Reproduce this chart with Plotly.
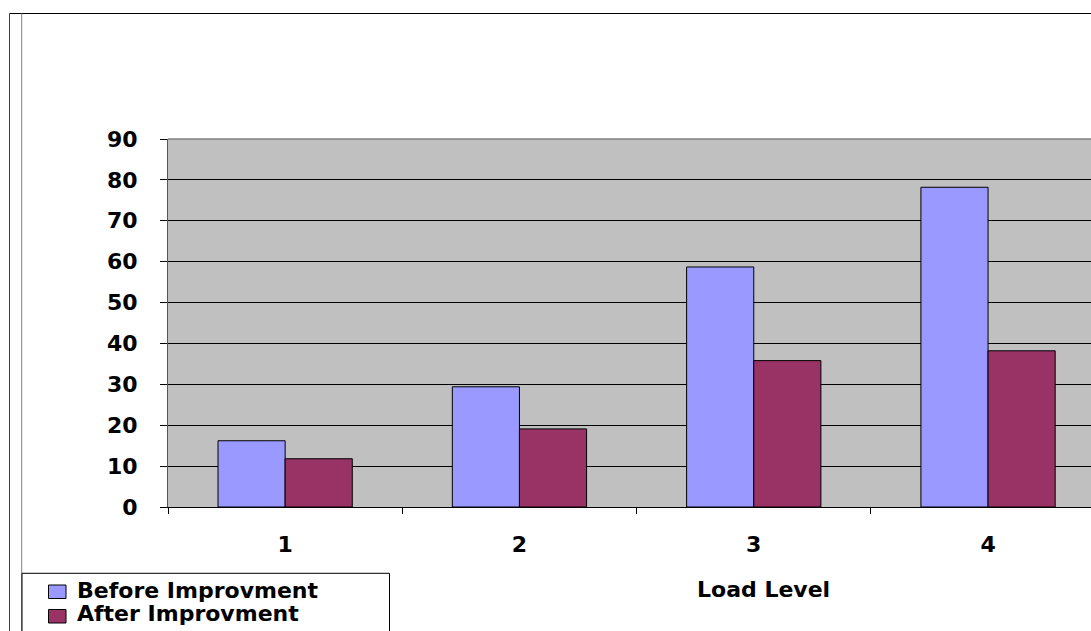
import plotly.graph_objects as go

categories = ["1", "2", "3", "4"]
before = [16.2, 29.4, 58.7, 78.2]
after = [11.8, 19.1, 35.8, 38.2]
series_names = ["Before Improvment", "After Improvment"]
y_ticks = [0, 10, 20, 30, 40, 50, 60, 70, 80, 90]
x_title = "Load Level"

W, H = 1091, 631
ML, MR, MT, MB = 168, 0, 139, 124
PW = W - ML - MR
PH = H - MT - MB

def px(x):
    return (x - ML) / PW

def py(y):
    return (H - MB - y) / PH

FONT = "DejaVu Sans, Arial, sans-serif"
FS = 22
c_before = "#9999FF"
c_after = "#993366"

fig = go.Figure()
fig.add_trace(go.Bar(x=categories, y=before, name=series_names[0],
                     marker=dict(color=c_before, line=dict(color="black", width=1))))
fig.add_trace(go.Bar(x=categories, y=after, name=series_names[1],
                     marker=dict(color=c_after, line=dict(color="black", width=1))))

cat_w = 234.3
fig.update_layout(
    width=W, height=H,
    margin=dict(l=ML, r=MR, t=MT, b=MB, pad=0),
    paper_bgcolor="white",
    plot_bgcolor="#C0C0C0",
    barmode="group",
    bargap=0.427,
    bargroupgap=0,
    showlegend=False,
    font=dict(family=FONT, size=FS, color="black", weight="bold"),
    xaxis=dict(type="category", range=[-0.5, -0.5 + PW / cat_w],
               tickson="boundaries", ticks="outside", ticklen=6, tickcolor="black",
               showline=True, linecolor="black", linewidth=1,
               showgrid=False, zeroline=False, ticklabelstandoff=18,
               tickfont=dict(family=FONT, size=FS, color="black", weight="bold")),
    yaxis=dict(range=[0, 90], tickvals=y_ticks, ticks="outside", ticklen=7,
               tickcolor="black", showline=True, linecolor="#555555", linewidth=1,
               showgrid=True, gridcolor="black", gridwidth=1, zeroline=False,
               ticklabelstandoff=18,
               tickfont=dict(family=FONT, size=FS, color="black", weight="bold")),
)

shapes = []
shapes.append(dict(type="line", xref="paper", yref="paper", x0=0, x1=1.05, y0=1, y1=1,
                   line=dict(color="#808080", width=1.5)))
shapes.append(dict(type="line", xref="paper", yref="paper", x0=px(9.5), x1=px(1100),
                   y0=py(13.5), y1=py(13.5), line=dict(color="black", width=1)))
shapes.append(dict(type="line", xref="paper", yref="paper", x0=px(9.5), x1=px(9.5),
                   y0=py(13.5), y1=py(640), line=dict(color="#404040", width=1)))
shapes.append(dict(type="line", xref="paper", yref="paper", x0=px(21.7), x1=px(21.7),
                   y0=py(13.5), y1=py(640), line=dict(color="#808080", width=1)))
shapes.append(dict(type="rect", xref="paper", yref="paper", x0=px(22), x1=px(389.5),
                   y0=py(573.3), y1=py(640), line=dict(color="black", width=1),
                   fillcolor="white"))
shapes.append(dict(type="rect", xref="paper", yref="paper", x0=px(48.5), x1=px(66),
                   y0=py(585), y1=py(598.5), line=dict(color="black", width=1),
                   fillcolor=c_before))
shapes.append(dict(type="rect", xref="paper", yref="paper", x0=px(48.5), x1=px(66),
                   y0=py(609.5), y1=py(623), line=dict(color="black", width=1),
                   fillcolor=c_after))
fig.update_layout(shapes=shapes)

annotations = [
    dict(text=series_names[0], xref="paper", yref="paper", x=px(75), y=py(590),
         xanchor="left", yanchor="middle", showarrow=False,
         font=dict(family=FONT, size=FS, color="black", weight="bold")),
    dict(text=series_names[1], xref="paper", yref="paper", x=px(75), y=py(613),
         xanchor="left", yanchor="middle", showarrow=False,
         font=dict(family=FONT, size=FS, color="black", weight="bold")),
    dict(text=x_title, xref="paper", yref="paper", x=px(763), y=py(589),
         xanchor="center", yanchor="middle", showarrow=False,
         font=dict(family=FONT, size=FS, color="black", weight="bold")),
]
fig.update_layout(annotations=annotations)

fig.write_html("out.html", config={"displayModeBar": False},
               post_script="document.body.style.margin='0';")
